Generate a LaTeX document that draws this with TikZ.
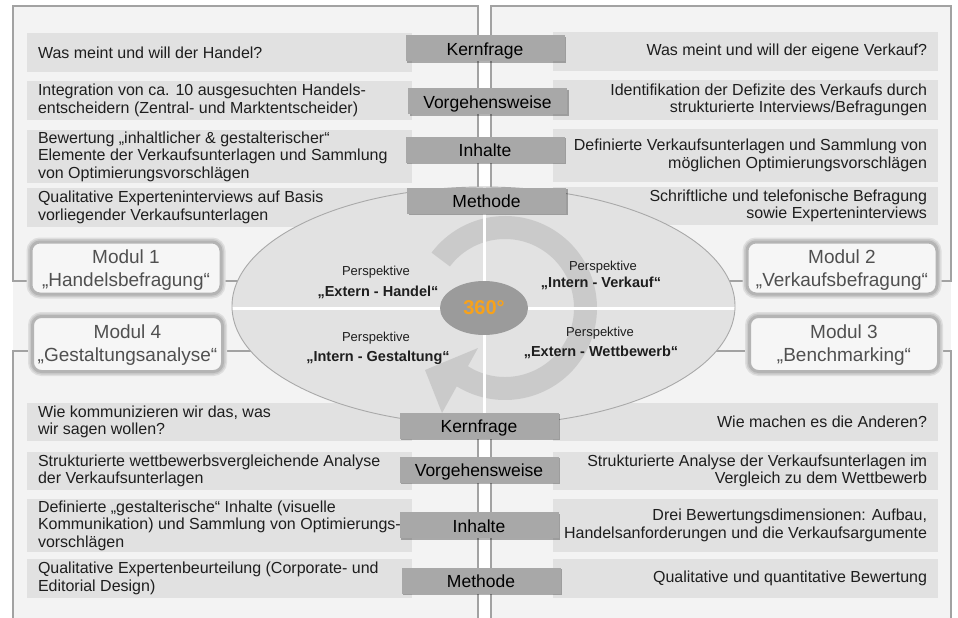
\documentclass[tikz,border=0pt]{standalone}
\usepackage{fontspec}
\setmainfont{Liberation Sans}
\usetikzlibrary{shadows,shapes.geometric,calc}
\definecolor{framebg}{HTML}{F3F3F3}
\definecolor{flinec}{HTML}{A2A2A2}
\definecolor{barc}{HTML}{E1E1E1}
\definecolor{ellc}{HTML}{E2E2E2}
\definecolor{elll}{HTML}{A9A9A9}
\definecolor{ringc}{HTML}{CACACA}
\definecolor{centc}{HTML}{9B9B9B}
\definecolor{orangec}{HTML}{F7A21B}
\definecolor{lblc}{HTML}{A8A8A8}
\definecolor{modfill}{HTML}{F6F6F6}
\definecolor{modborder}{HTML}{B4B4B4}
\definecolor{modglow}{HTML}{DEDEDE}
\definecolor{modglowb}{HTML}{CACACA}
\definecolor{modtextc}{HTML}{505050}
\definecolor{txtc}{HTML}{1E1E1E}
\pgfdeclarelayer{bg}
\pgfsetlayers{bg,main}
\begin{document}
\begin{tikzpicture}[x=1pt,y=-1pt,
 cbar/.style={fill=barc, minimum width=385pt, inner sep=0pt},
 ltxt/.style={anchor=west, align=left, inner sep=0pt, text=txtc, font=\fontsize{16}{17.5}\selectfont},
 rtxt/.style={anchor=east, align=right, inner sep=0pt, text=txtc, font=\fontsize{16}{17.5}\selectfont},
 lbl/.style={fill=lblc, minimum width=159pt, minimum height=26pt, inner sep=0pt, text=black,
   text height=14.5pt, text depth=0pt,
   font=\fontsize{17.5}{20}\selectfont,
   drop shadow={shadow xshift=1.5pt, shadow yshift=-1.8pt, fill=black, opacity=0.3}},
 modul/.style={rounded corners=9pt, fill=modfill, draw=modborder, line width=3pt,
   preaction={draw=modglow, line width=9pt}, preaction={draw=modglowb, line width=6pt},
   inner sep=0pt},
 modtxt/.style={align=center, text=modtextc, inner sep=0pt, font=\fontsize{19}{23}\selectfont},
 persp/.style={font=\fontsize{13}{15}\selectfont, text=txtc, inner sep=0pt},
 perspb/.style={font=\bfseries\fontsize{14.5}{16}\selectfont, text=txtc, inner sep=0pt},
 frameline/.style={draw=flinec, line width=1.5pt}]
\useasboundingbox (0,0) rectangle (958,618);

% ---------- content bars ----------
\node[cbar, minimum height=39pt] (tl1) at (219.5,52.5) {};
\node[cbar, minimum height=39pt] (tl2) at (219.5,100.5) {};
\node[cbar, minimum height=53pt] (tl3) at (219.5,156.5) {};
\node[cbar, minimum height=39pt] (tl4) at (219.5,207.5) {};
\node[cbar, minimum height=39pt] (tr1) at (745.5,51.5) {};
\node[cbar, minimum height=40pt] (tr2) at (745.5,100) {};
\node[cbar, minimum height=53pt] (tr3) at (745.5,155.5) {};
\node[cbar, minimum height=38pt] (tr4) at (745.5,206) {};
\node[cbar, minimum height=38pt] (bl1) at (219.5,422) {};
\node[cbar, minimum height=38pt] (bl2) at (219.5,471) {};
\node[cbar, minimum height=53pt] (bl3) at (219.5,525.5) {};
\node[cbar, minimum height=39pt] (bl4) at (219.5,578.5) {};
\node[cbar, minimum height=38pt] (br1) at (745.5,422) {};
\node[cbar, minimum height=38pt] (br2) at (745.5,471) {};
\node[cbar, minimum height=53pt] (br3) at (745.5,525.5) {};
\node[cbar, minimum height=39pt] (br4) at (745.5,578.5) {};

% ---------- modules ----------
\node[modul, minimum width=190pt, minimum height=52pt] (mod1) at (126,268) {};
\node[modul, minimum width=190pt, minimum height=55pt] (mod4) at (127.5,344) {};
\node[modul, minimum width=190pt, minimum height=52pt] (mod2) at (842,268) {};
\node[modul, minimum width=189pt, minimum height=55pt] (mod3) at (844,344) {};
\node[modtxt] (mod1t) at ([yshift=-2pt]mod1.center) {Modul 1\\„Handelsbefragung“};
\node[modtxt] (mod4t) at ([yshift=-1pt]mod4.center) {Modul 4\\„Gestaltungsanalyse“};
\node[modtxt] (mod2t) at ([yshift=-2pt]mod2.center) {Modul 2\\„Verkaufsbefragung“};
\node[modtxt] (mod3t) at ([yshift=-1pt]mod3.center) {Modul 3\\„Benchmarking“};

% ---------- frames (background layer) ----------
\begin{pgfonlayer}{bg}
\fill[white] (0,0) rectangle (958,618);
\fill[framebg] (13,6) rectangle (478,618);
\fill[framebg] (491,6) rectangle (951,618);
\coordinate (ftl) at (13,6);
\coordinate (ftr) at (951,6);
\draw[frameline] (mod1.west |- 0,281) -- (13,281) -- (ftl) -- (478,6) -- (478,260);
\draw[frameline] (mod1.east |- 0,281) -- (300,281);
\draw[frameline] (491,260) -- (491,6) -- (ftr) -- (951,281) -- (mod2.east |- 0,281);
\draw[frameline] (mod2.west |- 0,281) -- (660,281);
\draw[frameline] (mod4.west |- 0,351) -- (13,351) -- (13,618);
\draw[frameline] (mod4.east |- 0,351) -- (300,351);
\draw[frameline] (478,380) -- (478,618);
\draw[frameline] (491,380) -- (491,618);
\draw[frameline] (mod3.west |- 0,351) -- (660,351);
\draw[frameline] (mod3.east |- 0,351) -- (951,351) -- (951,618);
\end{pgfonlayer}

% ---------- central ellipse ----------
\coordinate (ec) at (483.5,306);
\draw[fill=ellc, draw=elll, line width=0.9pt] (ec) ellipse [x radius=251.5, y radius=119];
\coordinate (rc) at (505,308);
\fill[ringc] ($(rc)+(217:92)$) arc[start angle=217, end angle=484, radius=92]
  -- ($(rc)+(484:69)$) arc[start angle=484, end angle=217, radius=69] -- cycle;
\fill[ringc] (478,348) -- (425,370) -- (442,413) -- cycle;
\begin{scope}
\clip (ec) ellipse [x radius=251, y radius=118.5];
\draw[white, line width=3pt] (484,150) -- (484,460);
\draw[white, line width=3pt] (200,308) -- (770,308);
\end{scope}
\node[ellipse, fill=centc, minimum width=88pt, minimum height=54pt, inner sep=0pt,
  text=orangec, font=\bfseries\fontsize{20}{22}\selectfont] (c360) at (484,308) {360°};

% ---------- perspectives ----------
\node[persp] (p1a) at (376,272) {Perspektive};
\node[perspb] (p1b) at (378,292) {„Extern - Handel“};
\node[persp] (p2a) at (603,267) {Perspektive};
\node[perspb] (p2b) at (601,283) {„Intern - Verkauf“};
\node[persp] (p4a) at (376,338) {Perspektive};
\node[perspb] (p4b) at (378,358) {„Intern - Gestaltung“};
\node[persp] (p3a) at (600,333) {Perspektive};
\node[perspb] (p3b) at (601,352) {„Extern - Wettbewerb“};

% ---------- label boxes ----------
\node[lbl] (k1) at (485,48) {Kernfrage};
\node[lbl] (v1) at (487.5,101) {Vorgehensweise};
\node[lbl] (i1) at (485,149.5) {Inhalte};
\node[lbl] (m1) at (486.5,200.5) {Methode};
\node[lbl] (k2) at (479,425.5) {Kernfrage};
\node[lbl] (v2) at (479,469.5) {Vorgehensweise};
\node[lbl] (i2) at (479,525) {Inhalte};
\node[lbl] (m2) at (481,580.5) {Methode};

% ---------- texts ----------
\node[ltxt] (tl1t) at ([xshift=11pt]tl1.west) {Was meint und will der Handel?};
\node[ltxt] (tl2t) at ([xshift=11pt]tl2.west) {Integration von ca. 10 ausgesuchten Handels-\\entscheidern (Zentral- und Marktentscheider)};
\node[ltxt] (tl3t) at ([xshift=11pt]tl3.west) {Bewertung „inhaltlicher \& gestalterischer“\\Elemente der Verkaufsunterlagen und Sammlung\\von Optimierungsvorschlägen};
\node[ltxt] (tl4t) at ([xshift=11pt]tl4.west) {Qualitative Experteninterviews auf Basis\\vorliegender Verkaufsunterlagen};
\node[rtxt] (tr1t) at ([xshift=-11pt]tr1.east) {Was meint und will der eigene Verkauf?};
\node[rtxt] (tr2t) at ([xshift=-11pt]tr2.east) {Identifikation der Defizite des Verkaufs durch\\strukturierte Interviews/Befragungen};
\node[rtxt] (tr3t) at ([xshift=-11pt]tr3.east) {Definierte Verkaufsunterlagen und Sammlung von\\möglichen Optimierungsvorschlägen};
\node[rtxt] (tr4t) at ([xshift=-11pt]tr4.east) {Schriftliche und telefonische Befragung\\sowie Experteninterviews};
\node[ltxt] (bl1t) at ([xshift=11pt]bl1.west) {Wie kommunizieren wir das, was\\wir sagen wollen?};
\node[ltxt] (bl2t) at ([xshift=11pt]bl2.west) {Strukturierte wettbewerbsvergleichende Analyse\\der Verkaufsunterlagen};
\node[ltxt] (bl3t) at ([xshift=11pt]bl3.west) {Definierte „gestalterische“ Inhalte (visuelle\\Kommunikation) und Sammlung von Optimierungs-\\vorschlägen};
\node[ltxt] (bl4t) at ([xshift=11pt]bl4.west) {Qualitative Expertenbeurteilung (Corporate- und\\Editorial Design)};
\node[rtxt] (br1t) at ([xshift=-11pt]br1.east) {Wie machen es die Anderen?};
\node[rtxt] (br2t) at ([xshift=-11pt]br2.east) {Strukturierte Analyse der Verkaufsunterlagen im\\Vergleich zu dem Wettbewerb};
\node[rtxt] (br3t) at ([xshift=-11pt]br3.east) {Drei Bewertungsdimensionen: Aufbau,\\Handelsanforderungen und die Verkaufsargumente};
\node[rtxt] (br4t) at ([xshift=-11pt]br4.east) {Qualitative und quantitative Bewertung};
\end{tikzpicture}
\end{document}
